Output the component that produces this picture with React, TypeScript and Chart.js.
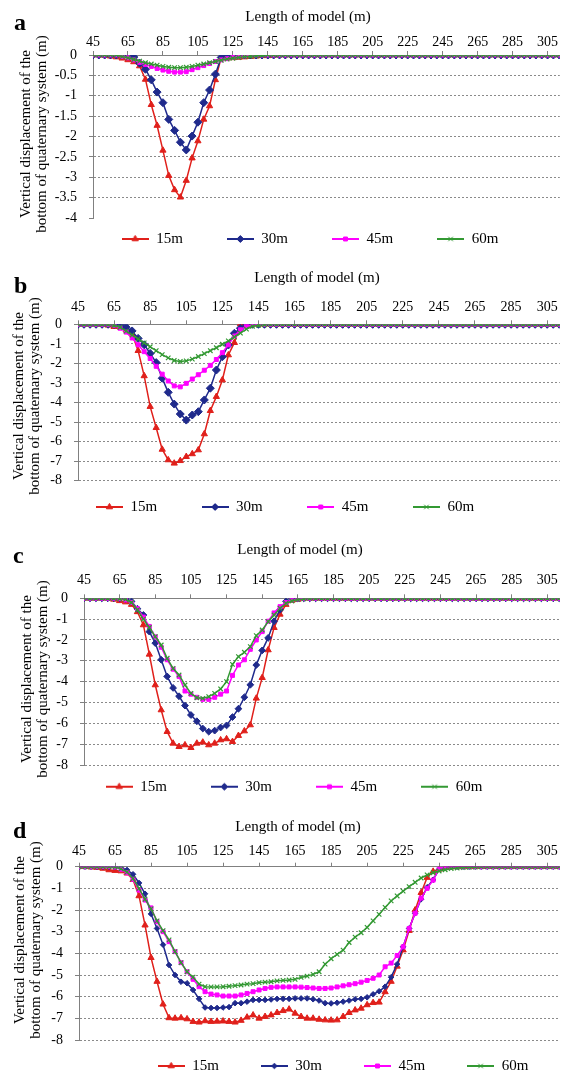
import React, { useEffect, useRef } from 'react';
import { Chart, registerables } from 'chart.js';
import { drawPoint } from 'chart.js/helpers';

Chart.register(...registerables);

const SERIF = "'Liberation Serif', 'Times New Roman', serif";

// Length of model (m) at each sampled node
const LENGTH_M = [
  45, 48.33, 51.67, 55, 58.33, 61.67, 65, 68.33, 71.67, 75,
  78.33, 81.67, 85, 88.33, 91.67, 95, 98.33, 101.67, 105, 108.33,
  111.67, 115, 118.33, 121.67, 125, 128.33, 131.67, 135, 138.33, 141.67,
  145, 148.33, 151.67, 155, 158.33, 161.67, 165, 168.33, 171.67, 175,
  178.33, 181.67, 185, 188.33, 191.67, 195, 198.33, 201.67, 205, 208.33,
  211.67, 215, 218.33, 221.67, 225, 228.33, 231.67, 235, 238.33, 241.67,
  245, 248.33, 251.67, 255, 258.33, 261.67, 265, 268.33, 271.67, 275,
  278.33, 281.67, 285, 288.33, 291.67, 295, 298.33, 301.67, 305, 308.33,
  311.67,
];

const X_TICKS = [45, 65, 85, 105, 125, 145, 165, 185, 205, 225, 245, 265, 285, 305];
const SERIES_NAMES = ['15m', '30m', '45m', '60m'];
const X_TITLE = 'Length of model (m)';
const Y_TITLE = ['Vertical displacement of the', 'bottom of quaternary system (m)'];

// ---- panel a ----
const A_15 = [
  0, 0, -0.01, -0.03, -0.05, -0.08, -0.12, -0.17, -0.27, -0.6,
  -1.22, -1.73, -2.34, -2.96, -3.31, -3.49, -3.08, -2.53, -2.11, -1.58,
  -1.25, -0.61, -0.06, -0.08, -0.07, -0.06, -0.05, -0.04, -0.03, -0.02,
  -0.02, -0.01, 0, 0, 0, 0, 0, 0, 0, 0,
  0, 0, 0, 0, 0, 0, 0, 0, 0, 0,
  0, 0, 0, 0, 0, 0, 0, 0, 0, 0,
  0, 0, 0, 0, 0, 0, 0, 0, 0, 0,
  0, 0, 0, 0, 0, 0, 0, 0, 0, 0,
  0,
];
const A_30 = [
  0, 0, 0, 0, 0, 0, 0, -0.05, -0.2, -0.35,
  -0.61, -0.91, -1.17, -1.58, -1.85, -2.14, -2.33, -1.99, -1.65, -1.17,
  -0.86, -0.47, -0.06, -0.02, -0.01, 0, 0, 0, 0, 0,
  0, 0, 0, 0, 0, 0, 0, 0, 0, 0,
  0, 0, 0, 0, 0, 0, 0, 0, 0, 0,
  0, 0, 0, 0, 0, 0, 0, 0, 0, 0,
  0, 0, 0, 0, 0, 0, 0, 0, 0, 0,
  0, 0, 0, 0, 0, 0, 0, 0, 0, 0,
  0,
];
const A_45 = [
  0, 0, 0, 0, 0, -0.04, -0.07, -0.12, -0.18, -0.23,
  -0.28, -0.33, -0.37, -0.4, -0.42, -0.42, -0.41, -0.36, -0.31, -0.26,
  -0.21, -0.16, -0.12, -0.09, -0.06, -0.04, -0.02, -0.01, 0, 0,
  0, 0, 0, 0, 0, 0, 0, 0, 0, 0,
  0, 0, 0, 0, 0, 0, 0, 0, 0, 0,
  0, 0, 0, 0, 0, 0, 0, 0, 0, 0,
  0, 0, 0, 0, 0, 0, 0, 0, 0, 0,
  0, 0, 0, 0, 0, 0, 0, 0, 0, 0,
  0,
];
const A_60 = [
  0, 0, 0, 0, 0, -0.04, -0.07, -0.11, -0.15, -0.19,
  -0.22, -0.25, -0.28, -0.3, -0.31, -0.31, -0.3, -0.28, -0.25, -0.22,
  -0.19, -0.16, -0.13, -0.1, -0.08, -0.06, -0.04, -0.03, -0.02, -0.01,
  0, 0, 0, 0, 0, 0, 0, 0, 0, 0,
  0, 0, 0, 0, 0, 0, 0, 0, 0, 0,
  0, 0, 0, 0, 0, 0, 0, 0, 0, 0,
  0, 0, 0, 0, 0, 0, 0, 0, 0, 0,
  0, 0, 0, 0, 0, 0, 0, 0, 0, 0,
  0,
];

// ---- panel b ----
const B_15 = [
  0, 0, 0, 0, 0, -0.05, -0.12, -0.15, -0.3, -0.5,
  -1.35, -2.64, -4.21, -5.29, -6.4, -6.94, -7.11, -6.98, -6.77, -6.63,
  -6.43, -5.61, -4.42, -3.7, -2.85, -1.57, -0.94, 0.02, 0.02, 0,
  0, 0, 0, 0, 0, 0, 0, 0, 0, 0,
  0, 0, 0, 0, 0, 0, 0, 0, 0, 0,
  0, 0, 0, 0, 0, 0, 0, 0, 0, 0,
  0, 0, 0, 0, 0, 0, 0, 0, 0, 0,
  0, 0, 0, 0, 0, 0, 0, 0, 0, 0,
  0,
];
const B_30 = [
  0, 0, 0, 0, 0, 0, 0, -0.02, -0.15, -0.34,
  -0.72, -1.05, -1.49, -1.96, -2.76, -3.48, -4.08, -4.59, -4.9, -4.64,
  -4.47, -3.87, -3.27, -2.34, -1.66, -1.06, -0.46, -0.2, -0.04, 0,
  0, 0, 0, 0, 0, 0, 0, 0, 0, 0,
  0, 0, 0, 0, 0, 0, 0, 0, 0, 0,
  0, 0, 0, 0, 0, 0, 0, 0, 0, 0,
  0, 0, 0, 0, 0, 0, 0, 0, 0, 0,
  0, 0, 0, 0, 0, 0, 0, 0, 0, 0,
  0,
];
const B_45 = [
  0, 0, 0, 0, 0, 0, -0.05, -0.2, -0.4, -0.7,
  -1.05, -1.4, -1.75, -2.15, -2.55, -2.9, -3.15, -3.2, -3.02, -2.8,
  -2.58, -2.35, -2.1, -1.8, -1.45, -1.05, -0.6, -0.28, -0.1, -0.02,
  0, 0, 0, 0, 0, 0, 0, 0, 0, 0,
  0, 0, 0, 0, 0, 0, 0, 0, 0, 0,
  0, 0, 0, 0, 0, 0, 0, 0, 0, 0,
  0, 0, 0, 0, 0, 0, 0, 0, 0, 0,
  0, 0, 0, 0, 0, 0, 0, 0, 0, 0,
  0,
];
const B_60 = [
  0, 0, 0, 0, 0, 0, -0.05, -0.15, -0.35, -0.55,
  -0.75, -0.95, -1.15, -1.35, -1.55, -1.72, -1.85, -1.9, -1.87, -1.78,
  -1.65, -1.5, -1.35, -1.2, -1.02, -0.85, -0.65, -0.45, -0.25, -0.1,
  -0.05, -0.02, 0, 0, 0, 0, 0, 0, 0, 0,
  0, 0, 0, 0, 0, 0, 0, 0, 0, 0,
  0, 0, 0, 0, 0, 0, 0, 0, 0, 0,
  0, 0, 0, 0, 0, 0, 0, 0, 0, 0,
  0, 0, 0, 0, 0, 0, 0, 0, 0, 0,
  0,
];

// ---- panel c ----
const C_15 = [
  0, 0, 0, 0, 0, -0.05, -0.12, -0.18, -0.3, -0.65,
  -1.28, -2.69, -4.16, -5.36, -6.4, -6.96, -7.12, -7.04, -7.17, -6.96,
  -6.91, -7.04, -6.96, -6.8, -6.75, -6.88, -6.59, -6.37, -6.08, -4.8,
  -3.81, -2.48, -1.41, -0.77, -0.3, -0.1, -0.05, 0, 0, 0,
  0, 0, 0, 0, 0, 0, 0, 0, 0, 0,
  0, 0, 0, 0, 0, 0, 0, 0, 0, 0,
  0, 0, 0, 0, 0, 0, 0, 0, 0, 0,
  0, 0, 0, 0, 0, 0, 0, 0, 0, 0,
  0,
];
const C_30 = [
  0, 0, 0, 0, 0, 0, 0, -0.03, -0.15, -0.5,
  -0.8, -1.6, -2.15, -2.95, -3.75, -4.3, -4.7, -5.15, -5.6, -5.9,
  -6.25, -6.4, -6.35, -6.2, -6.1, -5.7, -5.3, -4.75, -4.15, -3.2,
  -2.5, -1.9, -1.1, -0.55, -0.15, -0.02, 0, 0, 0, 0,
  0, 0, 0, 0, 0, 0, 0, 0, 0, 0,
  0, 0, 0, 0, 0, 0, 0, 0, 0, 0,
  0, 0, 0, 0, 0, 0, 0, 0, 0, 0,
  0, 0, 0, 0, 0, 0, 0, 0, 0, 0,
  0,
];
const C_45 = [
  0, 0, 0, 0, 0, 0, -0.02, -0.08, -0.2, -0.5,
  -0.9, -1.35, -1.85, -2.35, -2.95, -3.4, -3.75, -4.45, -4.6, -4.75,
  -4.85, -4.85, -4.75, -4.6, -4.45, -3.7, -3.2, -2.95, -2.45, -2.0,
  -1.6, -1.1, -0.7, -0.4, -0.2, -0.08, -0.03, 0, 0, 0,
  0, 0, 0, 0, 0, 0, 0, 0, 0, 0,
  0, 0, 0, 0, 0, 0, 0, 0, 0, 0,
  0, 0, 0, 0, 0, 0, 0, 0, 0, 0,
  0, 0, 0, 0, 0, 0, 0, 0, 0, 0,
  0,
];
const C_60 = [
  0, 0, 0, 0, 0, 0, -0.02, -0.05, -0.2, -0.55,
  -1.0, -1.4, -1.84, -2.24, -2.88, -3.36, -3.68, -4.16, -4.56, -4.77,
  -4.8, -4.72, -4.56, -4.35, -4.0, -3.17, -2.8, -2.59, -2.32, -1.79,
  -1.52, -1.12, -0.8, -0.48, -0.24, -0.13, -0.06, -0.03, 0, 0,
  0, 0, 0, 0, 0, 0, 0, 0, 0, 0,
  0, 0, 0, 0, 0, 0, 0, 0, 0, 0,
  0, 0, 0, 0, 0, 0, 0, 0, 0, 0,
  0, 0, 0, 0, 0, 0, 0, 0, 0, 0,
  0,
];

// ---- panel d ----
const D_15 = [
  0, 0, -0.02, -0.04, -0.08, -0.15, -0.18, -0.2, -0.3, -0.6,
  -1.35, -2.7, -4.2, -5.3, -6.35, -6.98, -7.0, -6.98, -7.03, -7.15,
  -7.18, -7.12, -7.15, -7.14, -7.13, -7.15, -7.18, -7.1, -6.95, -6.85,
  -7.0, -6.92, -6.85, -6.74, -6.65, -6.58, -6.77, -6.92, -7.0, -7.0,
  -7.05, -7.08, -7.09, -7.08, -6.92, -6.74, -6.62, -6.54, -6.38, -6.28,
  -6.26, -5.78, -5.3, -4.6, -3.85, -2.95, -2.0, -1.2, -0.5, -0.22,
  -0.12, -0.05, -0.02, 0, 0, 0, 0, 0, 0, 0,
  0, 0, 0, 0, 0, 0, 0, 0, 0, 0,
  0,
];
const D_30 = [
  0, 0, 0, 0, 0, 0, -0.01, -0.05, -0.15, -0.35,
  -0.75, -1.25, -2.18, -2.85, -3.6, -4.54, -5.0, -5.31, -5.38, -5.69,
  -6.1, -6.5, -6.52, -6.52, -6.5, -6.48, -6.3, -6.3, -6.23, -6.15,
  -6.15, -6.15, -6.13, -6.1, -6.1, -6.1, -6.08, -6.08, -6.08, -6.12,
  -6.18, -6.3, -6.31, -6.28, -6.23, -6.18, -6.12, -6.1, -6.03, -5.89,
  -5.75, -5.54, -5.1, -4.5, -3.7, -2.85, -2.15, -1.5, -0.95, -0.6,
  -0.12, -0.03, 0, 0, 0, 0, 0, 0, 0, 0,
  0, 0, 0, 0, 0, 0, 0, 0, 0, 0,
  0,
];
const D_45 = [
  0, 0, 0, 0, 0, 0, -0.02, -0.12, -0.28, -0.58,
  -1.08, -1.54, -1.9, -2.54, -3.0, -3.46, -3.92, -4.43, -4.85, -5.2,
  -5.54, -5.77, -5.88, -5.92, -5.97, -5.97, -5.97, -5.92, -5.85, -5.77,
  -5.69, -5.62, -5.57, -5.55, -5.55, -5.55, -5.55, -5.56, -5.58, -5.6,
  -5.62, -5.62, -5.6, -5.55, -5.5, -5.45, -5.4, -5.33, -5.25, -5.15,
  -5.0, -4.62, -4.45, -4.1, -3.7, -2.85, -2.15, -1.45, -1.0, -0.62,
  -0.1, 0, 0, 0, 0, 0, 0, 0, 0, 0,
  0, 0, 0, 0, 0, 0, 0, 0, 0, 0,
  0,
];
const D_60 = [
  0, 0, 0, 0, 0, 0, -0.02, -0.1, -0.25, -0.55,
  -1.0, -1.5, -1.95, -2.5, -2.95, -3.38, -3.92, -4.43, -4.85, -5.1,
  -5.42, -5.54, -5.55, -5.55, -5.54, -5.52, -5.49, -5.46, -5.42, -5.4,
  -5.35, -5.33, -5.31, -5.27, -5.25, -5.23, -5.2, -5.11, -5.05, -4.97,
  -4.85, -4.5, -4.25, -4.05, -3.85, -3.5, -3.25, -3.05, -2.8, -2.5,
  -2.2, -1.88, -1.58, -1.35, -1.13, -0.92, -0.72, -0.52, -0.38, -0.28,
  -0.2, -0.14, -0.09, -0.06, -0.04, -0.03, -0.02, 0, 0, 0,
  0, 0, 0, 0, 0, 0, 0, 0, 0, 0,
  0,
];

// ---- styles ----
const SERIES_STYLE = [
  { color: '#E0201B', style: 'triangle', r: 3.6 },
  { color: '#1F2A8C', style: 'rectRot', r: 3.5 },
  { color: '#FF00FF', style: 'rect', r: 2.8 },
  { color: '#339933', style: 'crossRot', r: 3.2 },
];

const PANELS = [
  {
    letter: 'a', series: [A_15, A_30, A_45, A_60], top: 0, height: 265,
    yMin: -4, yStep: 0.5, hideBottomGrid: true,
    left: 93, chartTop: 55, chartBottom: 218, xPad: 0, yPad: 12,
    legendX: 310, legendY: 239, legendPad: 44,
    titleX: 308, titleY: 17, letterX: 14, letterY: 30,
    yTitleX: [26, 42], yTitleY: 134, diamondR: 4,
  },
  {
    letter: 'b', series: [B_15, B_30, B_45, B_60], top: 265, height: 270,
    yMin: -8, yStep: 1, hideBottomGrid: false,
    left: 78, chartTop: 59.3, chartBottom: 215.7, xPad: 5, yPad: 12,
    legendX: 285, legendY: 242, legendPad: 44.5,
    titleX: 317, titleY: 13, letterX: 14, letterY: 28,
    yTitleX: [19, 35], yTitleY: 131, diamondR: 4,
  },
  {
    letter: 'c', series: [C_15, C_30, C_45, C_60], top: 535, height: 270,
    yMin: -8, yStep: 1, hideBottomGrid: false,
    left: 84, chartTop: 63.3, chartBottom: 230, xPad: 6, yPad: 12,
    legendX: 294, legendY: 251.7, legendPad: 44,
    titleX: 300, titleY: 15, letterX: 13, letterY: 28,
    yTitleX: [27, 43], yTitleY: 144, diamondR: 3.4,
  },
  {
    letter: 'd', series: [D_15, D_30, D_45, D_60], top: 805, height: 267,
    yMin: -8, yStep: 1, hideBottomGrid: false,
    left: 79, chartTop: 61.7, chartBottom: 235, xPad: 2.6, yPad: 12,
    legendX: 343, legendY: 261, legendPad: 42,
    titleX: 298, titleY: 22, letterX: 13, letterY: 33,
    yTitleX: [20, 36], yTitleY: 135, diamondR: 2.8,
  },
];

function makeIcon(color: string, style: string, radius: number) {
  const c = document.createElement('canvas');
  c.width = 27;
  c.height = 12;
  const g = c.getContext('2d') as CanvasRenderingContext2D;
  g.strokeStyle = color;
  g.fillStyle = color;
  g.lineWidth = 2;
  g.beginPath();
  g.moveTo(0, 6);
  g.lineTo(27, 6);
  g.stroke();
  g.lineWidth = 1;
  drawPoint(g, { pointStyle: style as any, radius, rotation: 0, borderWidth: 1 } as any, 13.5, 6);
  return c;
}

const panelText = {
  id: 'panelText',
  afterDraw(chart: any, _args: any, o: any) {
    const ctx = chart.ctx as CanvasRenderingContext2D;
    ctx.save();
    ctx.fillStyle = '#000';
    ctx.textAlign = 'left';
    ctx.textBaseline = 'alphabetic';
    ctx.font = `bold 24px ${SERIF}`;
    ctx.fillText(o.letter, o.letterX, o.letterY);
    ctx.font = `15px ${SERIF}`;
    ctx.textAlign = 'center';
    ctx.textBaseline = 'middle';
    ctx.fillText(o.title, o.titleX, o.titleY);
    const lines: string[] = o.yTitle;
    for (let i = 0; i < lines.length; i++) {
      ctx.save();
      ctx.translate(o.yTitleX[i], o.yTitleY);
      ctx.rotate(-Math.PI / 2);
      ctx.fillText(lines[i], 0, 0);
      ctx.restore();
    }
    ctx.restore();
  },
};

const legendMover = {
  id: 'legendMover',
  afterLayout(chart: any, _args: any, o: any) {
    const lg = chart.legend;
    if (!lg) return;
    const half = 275;
    lg.left = o.cx - half;
    lg.right = o.cx + half;
    lg.width = half * 2;
    lg.top = o.top;
    lg.height = 120;
    lg.bottom = o.top + 120;
  },
};

function Panel({ cfg }: { cfg: any }) {
  const ref = useRef<HTMLCanvasElement | null>(null);
  useEffect(() => {
    if (!ref.current) return;
    const icons = SERIES_STYLE.map((s, i) =>
      makeIcon(s.color, s.style, i === 1 ? Math.min(cfg.diamondR, 3.5) : s.r)
    );
    const datasets = cfg.series.map((vals: number[], i: number) => {
      const st = SERIES_STYLE[i];
      return {
        label: SERIES_NAMES[i],
        data: LENGTH_M.map((x, k) => ({ x, y: vals[k] })),
        borderColor: st.color,
        backgroundColor: st.color,
        borderWidth: 1.5,
        pointStyle: st.style,
        pointRadius: i === 1 ? cfg.diamondR : st.r,
        pointBorderWidth: i === 3 ? 1.2 : 1,
        pointBackgroundColor: st.color,
        pointBorderColor: st.color,
        tension: 0,
        order: 4 - i,
      };
    });
    const grey = '#808080';
    const chart = new Chart(ref.current, {
      type: 'line',
      data: { datasets },
      plugins: [panelText, legendMover],
      options: {
        responsive: false,
        animation: false,
        devicePixelRatio: 1,
        events: [],
        layout: { padding: { left: 0, top: 0, right: 0, bottom: cfg.height - 1 - cfg.chartBottom } },
        scales: {
          x: {
            type: 'linear',
            position: 'top',
            min: 45,
            max: 312,
            afterBuildTicks: (s: any) => {
              s.ticks = X_TICKS.map((v) => ({ value: v }));
            },
            afterFit: (s: any) => {
              s.height = cfg.chartTop;
              s.paddingLeft = 0;
              s.paddingRight = 0;
            },
            ticks: {
              autoSkip: false,
              maxRotation: 0,
              padding: cfg.xPad,
              color: '#000',
              font: { family: SERIF, size: 14 },
              callback: (v: any) => String(v),
            },
            grid: { drawOnChartArea: false, drawTicks: true, tickLength: 4, color: grey, lineWidth: 1 },
            border: { display: true, color: grey, width: 1 },
          },
          y: {
            type: 'linear',
            min: cfg.yMin,
            max: 0,
            afterFit: (s: any) => {
              s.width = cfg.left;
              s.paddingTop = 0;
              s.paddingBottom = 0;
            },
            ticks: {
              stepSize: cfg.yStep,
              autoSkip: false,
              padding: cfg.yPad,
              color: '#000',
              font: { family: SERIF, size: 14 },
              callback: (v: any) => String(Math.round(Number(v) * 100) / 100),
            },
            grid: {
              color: (c: any) =>
                c.tick && (c.tick.value === 0 || (cfg.hideBottomGrid && c.tick.value === cfg.yMin))
                  ? 'rgba(0,0,0,0)'
                  : '#8a8a8a',
              tickColor: grey,
              tickLength: 4,
              lineWidth: 1,
            },
            border: { display: true, color: grey, width: 1, dash: [2, 2] },
          },
        },
        plugins: {
          tooltip: { enabled: false },
          title: { display: false },
          legend: {
            display: true,
            position: 'bottom',
            maxHeight: 1,
            labels: {
              usePointStyle: true,
              pointStyleWidth: 27,
              padding: cfg.legendPad,
              color: '#000',
              font: { family: SERIF, size: 15 },
              generateLabels: (ch: any) =>
                ch.data.datasets.map((ds: any, i: number) => ({
                  text: ds.label,
                  pointStyle: icons[i],
                  fillStyle: SERIES_STYLE[i].color,
                  strokeStyle: SERIES_STYLE[i].color,
                  lineWidth: 0,
                  hidden: false,
                  datasetIndex: i,
                  fontColor: '#000',
                })),
            },
          },
          legendMover: { cx: cfg.legendX, top: cfg.legendY - cfg.legendPad - 7.5 },
          panelText: {
            letter: cfg.letter,
            letterX: cfg.letterX,
            letterY: cfg.letterY,
            title: X_TITLE,
            titleX: cfg.titleX,
            titleY: cfg.titleY,
            yTitle: Y_TITLE,
            yTitleX: cfg.yTitleX,
            yTitleY: cfg.yTitleY,
          },
        } as any,
      } as any,
    });
    return () => chart.destroy();
  }, []);
  return (
    <canvas
      ref={ref}
      width={565}
      height={cfg.height}
      style={{ position: 'absolute', left: 0, top: cfg.top, width: 565, height: cfg.height, display: 'block' }}
    />
  );
}

export default function App() {
  return (
    <div
      style={{
        position: 'absolute',
        left: 0,
        top: 0,
        width: 565,
        height: 1072,
        overflow: 'hidden',
        background: '#fff',
      }}
    >
      {PANELS.map((p) => (
        <Panel key={p.letter} cfg={p} />
      ))}
    </div>
  );
}
